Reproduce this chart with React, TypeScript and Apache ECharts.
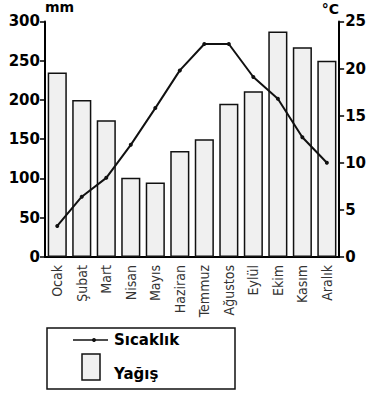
import React, { useEffect, useRef } from "react";
import * as echarts from "echarts";

const months = ["Ocak", "Şubat", "Mart", "Nisan", "Mayıs", "Haziran", "Temmuz", "Ağustos", "Eylül", "Ekim", "Kasım", "Aralık"];
const precipitation = [235, 200, 174, 101, 95, 135, 150, 195, 211, 287, 267, 250];
const temperature = [3.3, 6.4, 8.4, 11.9, 15.8, 19.8, 22.6, 22.6, 19.1, 16.8, 12.7, 10.0];
const legendLine = "Sıcaklık";
const legendBar = "Yağış";

export default function App() {
  const ref = useRef<HTMLDivElement>(null);
  useEffect(() => {
    document.body.style.margin = "0";
    const chart = echarts.init(ref.current!, null, { renderer: "svg" });
    const bold = "'DejaVu Sans', Arial, sans-serif";
    const cond = "'DejaVu Sans Condensed', 'Liberation Sans Narrow', 'DejaVu Sans', sans-serif";
    chart.setOption({
      animation: false,
      backgroundColor: "#fff",
      grid: { left: 45, right: 28, top: 21, bottom: 137 },
      xAxis: {
        type: "category",
        data: months,
        axisLine: { lineStyle: { color: "#000", width: 2 } },
        axisTick: { show: false },
        axisLabel: { rotate: 90, color: "#333", fontFamily: cond, fontSize: 14, margin: 8, interval: 0 },
      },
      yAxis: [
        {
          type: "value",
          min: 0,
          max: 300,
          interval: 50,
          name: "mm",
          nameLocation: "end",
          nameGap: 5,
          nameTextStyle: { color: "#000", fontFamily: bold, fontWeight: "bold", fontSize: 14, align: "left", padding: [0, 0, 0, 0] },
          axisLine: { show: true, lineStyle: { color: "#000", width: 2 } },
          axisTick: { show: true, inside: false, length: 5, lineStyle: { color: "#000", width: 1.5 } },
          axisLabel: { color: "#000", fontFamily: bold, fontWeight: "bold", fontSize: 15, margin: 5 },
          splitLine: { show: false },
        },
        {
          type: "value",
          min: 0,
          max: 25,
          interval: 5,
          name: "°C",
          nameLocation: "end",
          nameGap: 5,
          nameTextStyle: { color: "#000", fontFamily: bold, fontWeight: "bold", fontSize: 14, align: "right", padding: [0, 0, 0, 0] },
          axisLine: { show: true, lineStyle: { color: "#000", width: 2 } },
          axisTick: { show: true, inside: false, length: 5, lineStyle: { color: "#000", width: 1.5 } },
          axisLabel: { color: "#000", fontFamily: bold, fontWeight: "bold", fontSize: 15, margin: 6 },
          splitLine: { show: false },
        },
      ],
      series: [
        {
          name: legendBar,
          type: "bar",
          data: precipitation,
          barCategoryGap: "22%",
          itemStyle: { color: "#f0f0f0", borderColor: "#111", borderWidth: 1.5 },
        },
        {
          name: legendLine,
          type: "line",
          yAxisIndex: 1,
          data: temperature,
          symbol: "circle",
          symbolSize: 4,
          lineStyle: { color: "#111", width: 2 },
          itemStyle: { color: "#111" },
          z: 5,
        },
      ],
      graphic: [
        { type: "rect", shape: { x: 47, y: 328, width: 188, height: 61 }, style: { fill: "#fff", stroke: "#111", lineWidth: 1.5 } },
        { type: "line", shape: { x1: 73, y1: 340, x2: 108, y2: 340 }, style: { stroke: "#111", lineWidth: 1.5 } },
        { type: "circle", shape: { cx: 94, cy: 340, r: 2 }, style: { fill: "#111" } },
        { type: "text", x: 114, y: 340, style: { text: legendLine, fill: "#000", font: `bold 15px ${bold}`, verticalAlign: "middle" } },
        { type: "rect", shape: { x: 82, y: 354, width: 18, height: 26 }, style: { fill: "#f0f0f0", stroke: "#111", lineWidth: 1.5 } },
        { type: "text", x: 114, y: 374, style: { text: legendBar, fill: "#000", font: `bold 15px ${bold}`, verticalAlign: "middle" } },
      ],
    });
    return () => chart.dispose();
  }, []);
  return <div ref={ref} style={{ width: 369, height: 394 }} />;
}
